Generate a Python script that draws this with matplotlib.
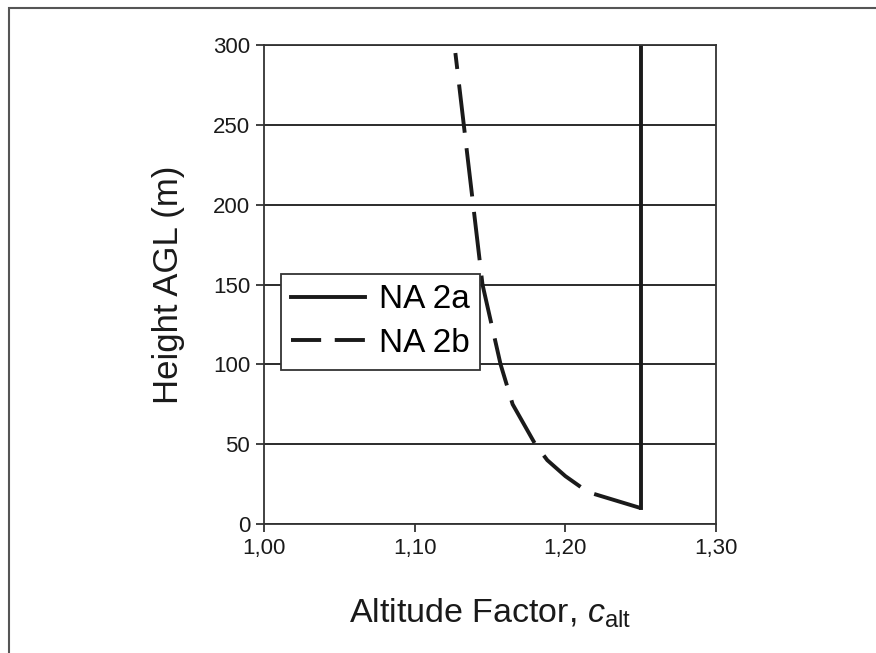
# %% import
import numpy as np
import matplotlib.pyplot as plt
from matplotlib.patches import Rectangle
from matplotlib.lines import Line2D
plt.rcParams["font.family"] = ["Liberation Sans", "DejaVu Sans"]
plt.rcParams["mathtext.fontset"] = "custom"
plt.rcParams["mathtext.rm"] = "Liberation Sans"
plt.rcParams["mathtext.it"] = "Liberation Sans:italic"
plt.rcParams["figure.dpi"] = 100
plt.rcParams["figure.facecolor"] = "white"

# %% data
height_2a = [10, 300]
calt_2a = [1.25, 1.25]

height_2b = [10, 20, 30, 40, 50, 75, 100, 150, 295]
calt_2b = [1.250, 1.215, 1.200, 1.188, 1.180, 1.165, 1.157, 1.145, 1.127]

xticks = [1.00, 1.10, 1.20, 1.30]
yticks = [0, 50, 100, 150, 200, 250, 300]

# %% plot
fig = plt.figure(figsize=(8.76, 6.53))
ax = fig.add_axes([0.3014, 0.1975, 0.516, 0.7335])

ax.plot(calt_2a, height_2a, color="#1a1a1a", lw=2.8)
ax.plot(calt_2b, height_2b, color="#1a1a1a", lw=2.8, dashes=(12.5, 4))

ax.set_xlim(1.0, 1.3)
ax.set_ylim(0, 300)
ax.set_xticks(xticks)
ax.set_xticklabels([f"{v:.2f}".replace(".", ",") for v in xticks])
ax.set_yticks(yticks)
ax.grid(axis="y", color="#1a1a1a", lw=1.3)
ax.set_axisbelow(True)
for s in ax.spines.values():
    s.set_color("#333333")
    s.set_linewidth(1.3)
ax.tick_params(direction="out", length=6, width=1.3, color="#333333",
               labelsize=16, labelcolor="#1a1a1a", pad=4)

ax.set_ylabel("Height AGL (m)", fontsize=25, color="#1a1a1a", labelpad=20)
ax.set_xlabel(r"Altitude Factor, $\it{c}_{\rm alt}$", fontsize=24.5, color="#1a1a1a", labelpad=27)

# legend handles: the dashed one drawn with shorter dashes like the original
handles = [Line2D([], [], color="#1a1a1a", lw=2.8),
           Line2D([], [], color="#1a1a1a", lw=2.8, dashes=(7.75, 3.5))]
leg = ax.legend(handles, ["NA 2a", "NA 2b"], loc="upper left",
                bbox_to_anchor=(0.037, 0.523), fontsize=24,
                fancybox=False, framealpha=1, edgecolor="#333333",
                handlelength=2.2, handletextpad=0.42, borderpad=0.32,
                labelspacing=0.38, borderaxespad=0)
leg.get_frame().set_linewidth(1.3)

fig.patches.append(Rectangle((9 / 876, -0.1), 1.2, (653 - 8) / 653 + 0.1,
                             transform=fig.transFigure, fill=False,
                             edgecolor="#555555", lw=1.5))

fig.savefig("out.png")
